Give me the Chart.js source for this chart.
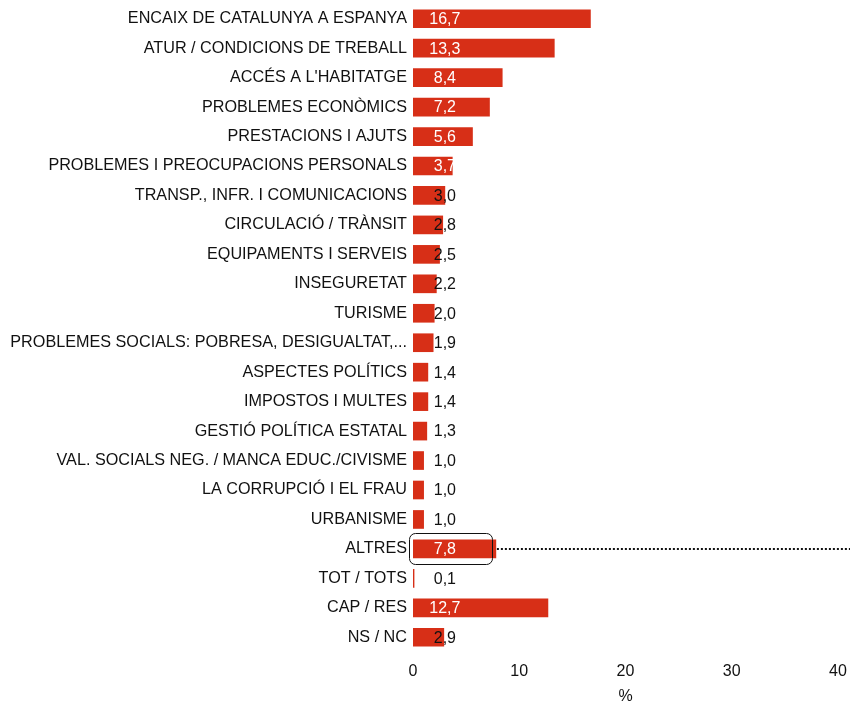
<!DOCTYPE html>
<html>
<head>
<meta charset="utf-8">
<script src="https://cdn.jsdelivr.net/npm/chart.js@4/dist/chart.umd.min.js"></script>
<style>
html,body{margin:0;padding:0;background:#fff;}
#wrap{width:850px;height:702px;position:relative;}
</style>
</head>
<body>
<div id="wrap"><canvas id="c" width="850" height="702"></canvas></div>
<script>
const categories = [
  "ENCAIX DE CATALUNYA A ESPANYA",
  "ATUR / CONDICIONS DE TREBALL",
  "ACCÉS A L'HABITATGE",
  "PROBLEMES ECONÒMICS",
  "PRESTACIONS I AJUTS",
  "PROBLEMES I PREOCUPACIONS PERSONALS",
  "TRANSP., INFR. I COMUNICACIONS",
  "CIRCULACIÓ / TRÀNSIT",
  "EQUIPAMENTS I SERVEIS",
  "INSEGURETAT",
  "TURISME",
  "PROBLEMES SOCIALS: POBRESA, DESIGUALTAT,...",
  "ASPECTES POLÍTICS",
  "IMPOSTOS I MULTES",
  "GESTIÓ POLÍTICA ESTATAL",
  "VAL. SOCIALS NEG. / MANCA EDUC./CIVISME",
  "LA CORRUPCIÓ I EL FRAU",
  "URBANISME",
  "ALTRES",
  "TOT / TOTS",
  "CAP / RES",
  "NS / NC"
];
const values = [16.7, 13.3, 8.4, 7.2, 5.6, 3.7, 3.0, 2.8, 2.5, 2.2, 2.0, 1.9, 1.4, 1.4, 1.3, 1.0, 1.0, 1.0, 7.8, 0.1, 12.7, 2.9];
const xTicks = [0, 10, 20, 30, 40];
const axisTitle = "%";
const highlighted = "ALTRES";

const FONT = "'Liberation Sans', Arial, sans-serif";
const FS = 16.2;
const VFS = 16;

const valueLabels = {
  id: 'valueLabels',
  afterDatasetsDraw(chart) {
    const ctx = chart.ctx;
    const meta = chart.getDatasetMeta(0);
    const xs = chart.scales.x;
    const labelX = xs.getPixelForValue(3);
    ctx.save();
    ctx.font = VFS + "px " + FONT;
    ctx.textAlign = 'center';
    ctx.textBaseline = 'middle';
    meta.data.forEach((bar, i) => {
      const v = values[i];
      ctx.fillStyle = v >= 3.5 ? '#ffffff' : '#111111';
      ctx.fillText(v.toFixed(1).replace('.', ','), labelX, bar.y + 1);
    });
    ctx.restore();
  }
};

const highlightBox = {
  id: 'highlightBox',
  afterDatasetsDraw(chart) {
    const ctx = chart.ctx;
    const idx = categories.indexOf(highlighted);
    if (idx < 0) return;
    const bar = chart.getDatasetMeta(0).data[idx];
    const xs = chart.scales.x;
    const x0 = xs.getPixelForValue(0) - 4;
    const x1 = bar.x - 4;
    const y0 = bar.y - 16;
    const y1 = bar.y + 15;
    ctx.save();
    ctx.strokeStyle = '#111';
    ctx.lineWidth = 1;
    ctx.beginPath();
    ctx.roundRect(Math.round(x0) + 0.5, Math.round(y0) + 0.5, Math.round(x1 - x0), Math.round(y1 - y0), 6);
    ctx.stroke();
    ctx.setLineDash([2, 2]);
    ctx.lineWidth = 2;
    ctx.beginPath();
    ctx.moveTo(bar.x + 1, Math.round(bar.y));
    ctx.lineTo(chart.width, Math.round(bar.y));
    ctx.stroke();
    ctx.restore();
  }
};

new Chart(document.getElementById('c'), {
  type: 'bar',
  data: {
    labels: categories,
    datasets: [{
      data: values,
      backgroundColor: '#d72f17',
      borderWidth: 0,
      barThickness: 18
    }]
  },
  options: {
    indexAxis: 'y',
    responsive: false,
    animation: false,
    devicePixelRatio: 1,
    layout: { padding: { top: 4, right: 12, left: 0, bottom: 0 } },
    plugins: {
      legend: { display: false },
      tooltip: { enabled: false }
    },
    scales: {
      x: {
        min: 0, max: 40,
        afterBuildTicks(scale) { scale.ticks = xTicks.map(v => ({ value: v })); },
        afterFit(scale) { scale.height = 50; scale.paddingLeft = 0; scale.paddingRight = 0; },
        grid: { display: false, drawTicks: false },
        border: { display: false },
        ticks: { color: '#111111', font: { family: FONT, size: VFS }, padding: 10 },
        title: { display: true, text: axisTitle, color: '#111111', font: { family: FONT, size: VFS }, padding: { top: 0, bottom: -4 } }
      },
      y: {
        grid: { display: false, drawTicks: false },
        border: { display: false },
        afterFit(scale) { scale.width = 413; scale.paddingTop = 0; scale.paddingBottom = 0; },
        ticks: { color: '#111111', font: { family: FONT, size: FS }, padding: 6, autoSkip: false }
      }
    }
  },
  plugins: [valueLabels, highlightBox]
});
</script>
</body>
</html>
